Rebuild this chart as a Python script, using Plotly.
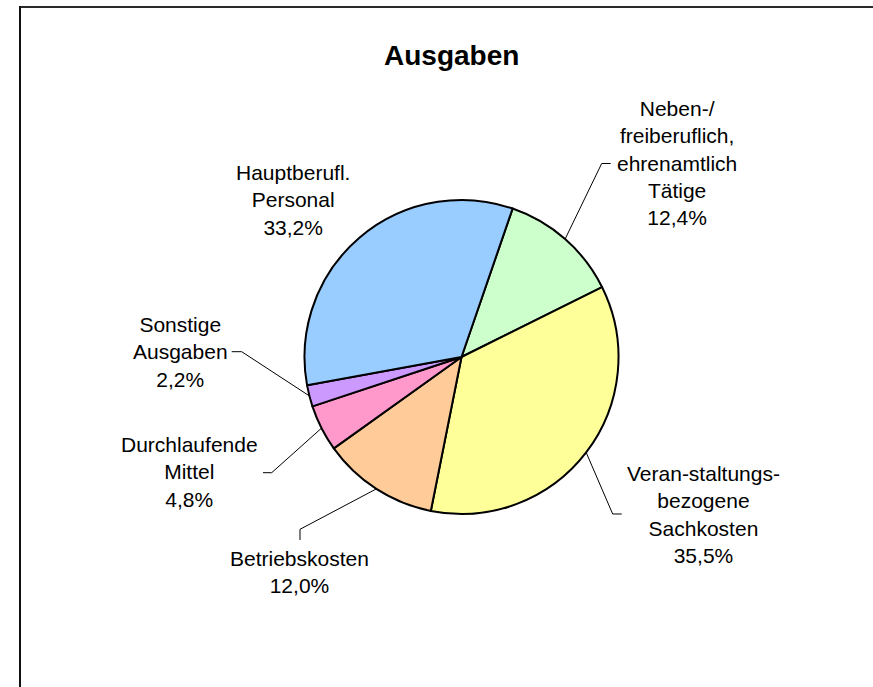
import math
import plotly.graph_objects as go

# ---- data ----
categories = ["Neben-/<br>freiberuflich,<br>ehrenamtlich<br>Tätige",
              "Veran-staltungs-<br>bezogene<br>Sachkosten",
              "Betriebskosten",
              "Durchlaufende<br>Mittel",
              "Sonstige<br>Ausgaben",
              "Hauptberufl.<br>Personal"]
values = [12.4, 35.5, 12.0, 4.8, 2.2, 33.2]
value_labels = ["12,4%", "35,5%", "12,0%", "4,8%", "2,2%", "33,2%"]
colors = ["#CCFFCC", "#FFFF99", "#FFCC99", "#FF99CC", "#CC99FF", "#99CCFF"]
title_text = "Ausgaben"

# ---- layout constants (pixels) ----
W, H = 873, 687
CX, CY, R = 461.5, 357.0, 157.0
ROTATION = 19

def px(x):
    return x / W

def py(y):
    return 1 - y / H

# label centres and leader-line elbows (pixels); None = no leader line
label_pos = [(677, 163), (703.5, 514), (299.5, 572), (189, 472), (180, 352), (293, 200)]
elbows = [
    [(601.7, 163.5), (610.7, 163.5)],
    [(612.7, 514), (621.7, 514)],
    [(300, 529.3), (300, 540)],
    [(271.7, 472.7), (263, 472.7)],
    [(241.7, 351.7), (231.7, 351.7)],
    None,
]

fig = go.Figure()
fig.add_trace(go.Pie(
    values=values,
    labels=[c.replace("<br>", " ") for c in categories],
    sort=False,
    direction="clockwise",
    rotation=ROTATION,
    textinfo="none",
    hoverinfo="label+percent",
    marker=dict(colors=colors, line=dict(color="black", width=2)),
    domain=dict(x=[px(CX - R), px(CX + R)], y=[py(CY + R), py(CY - R)]),
    showlegend=False,
))

annotations = [dict(text="<b>" + title_text + "</b>", x=px(451), y=py(55),
                    xref="paper", yref="paper", showarrow=False,
                    xanchor="center", yanchor="middle",
                    font=dict(family="Liberation Sans, Arial", size=28, color="black"))]
shapes = []

total = sum(values)
cum = 0.0
for i, v in enumerate(values):
    mid = ROTATION + (cum + v / 2) / total * 360
    cum += v
    a = math.radians(mid)
    rx, ry = CX + R * math.sin(a), CY - R * math.cos(a)
    lx, ly = label_pos[i]
    annotations.append(dict(text=categories[i] + "<br>" + value_labels[i],
                            x=px(lx), y=py(ly), xref="paper", yref="paper",
                            showarrow=False, xanchor="center", yanchor="middle",
                            align="center",
                            font=dict(family="Liberation Sans, Arial", size=21, color="black")))
    if elbows[i] is not None:
        pts = [(rx, ry)] + elbows[i]
        path = "M " + " L ".join(f"{px(x):.5f},{py(y):.5f}" for x, y in pts)
        shapes.append(dict(type="path", path=path, xref="paper", yref="paper",
                           line=dict(color="black", width=1)))

# chart frame (top and left edges visible)
shapes.append(dict(type="line", xref="paper", yref="paper",
                   x0=px(19), x1=1.0, y0=py(7), y1=py(7),
                   line=dict(color="#2a2a2a", width=2)))
shapes.append(dict(type="line", xref="paper", yref="paper",
                   x0=px(20), x1=px(20), y0=py(6), y1=0,
                   line=dict(color="#111111", width=2)))

fig.update_layout(
    width=W, height=H,
    margin=dict(l=0, r=0, t=0, b=0),
    paper_bgcolor="white", plot_bgcolor="white",
    annotations=annotations, shapes=shapes,
)

fig.write_html("out.html",
               config={"displayModeBar": False},
               post_script="document.body.style.margin='0';document.body.style.overflow='hidden';")
